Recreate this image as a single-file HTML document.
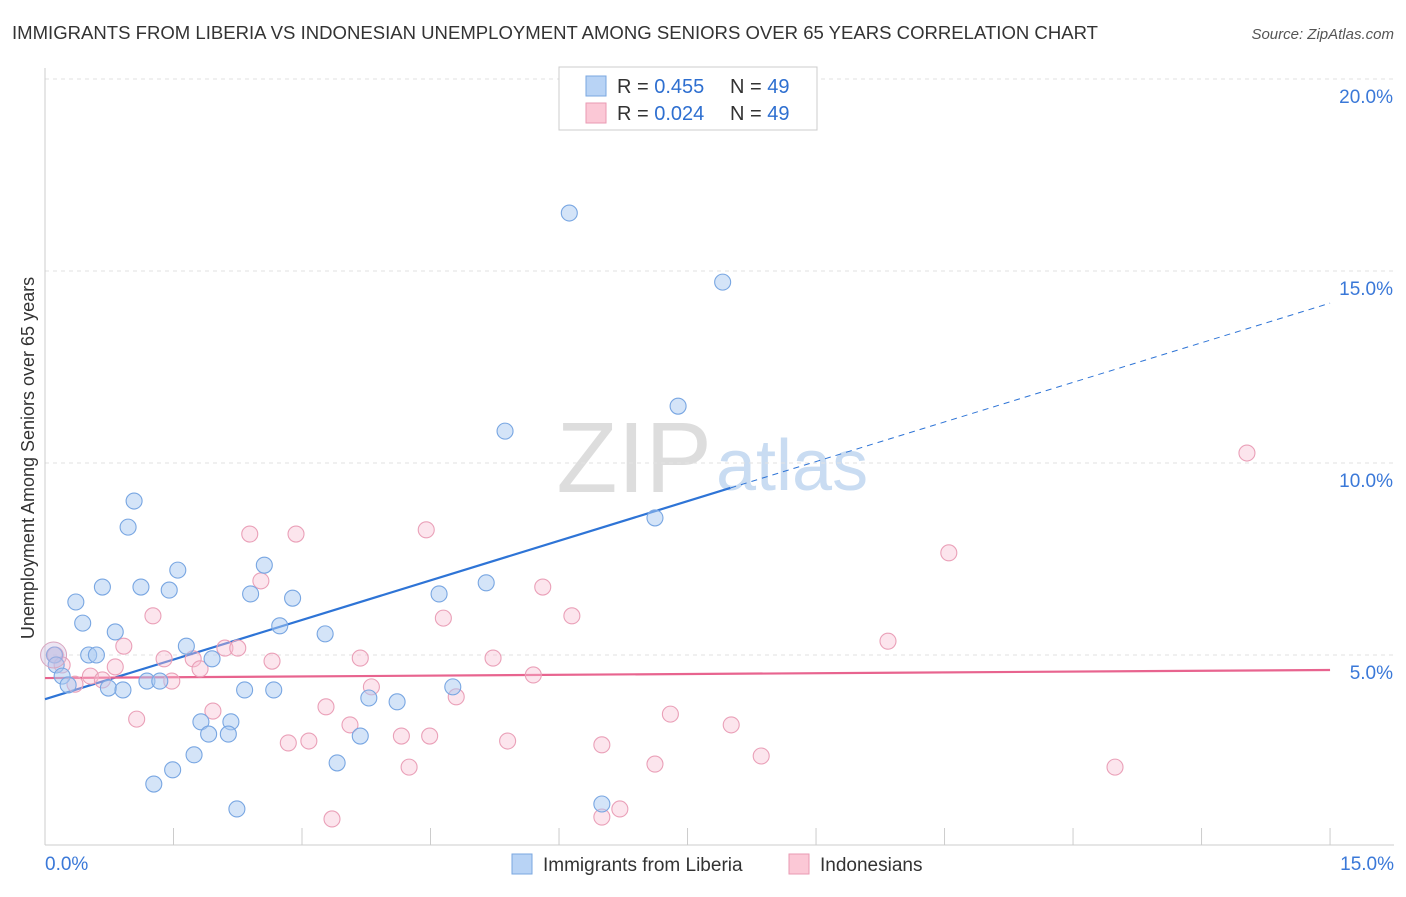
<!DOCTYPE html>
<html><head><meta charset="utf-8"><style>
body{margin:0;background:#fff;font-family:"Liberation Sans",sans-serif}
svg text{font-family:"Liberation Sans",sans-serif}
</style></head><body>
<svg id="chart" width="1406" height="892">
<text x="12" y="39" font-size="18" fill="#333" textLength="1086" lengthAdjust="spacingAndGlyphs">IMMIGRANTS FROM LIBERIA VS INDONESIAN UNEMPLOYMENT AMONG SENIORS OVER 65 YEARS CORRELATION CHART</text>
<text x="1394" y="39" font-size="15" fill="#555" font-style="italic" text-anchor="end">Source: ZipAtlas.com</text>
<text x="712" y="492" font-size="100" fill="#ddd" text-anchor="end" font-family="Liberation Serif">ZIP</text>
<text x="716" y="490" font-size="72" fill="#c9dcf2">atlas</text>
<g id="grid"></g><g id="axes"></g><g id="lines"></g><g id="pts"></g>
<text transform="translate(34,458) rotate(-90)" font-size="18" fill="#333" text-anchor="middle">Unemployment Among Seniors over 65 years</text>
<g>
<rect x="559" y="67" width="258" height="63" fill="#fff" stroke="#ccc"/>
<rect x="586" y="76" width="20" height="20" fill="#b8d3f5" stroke="#7aa7e0"/>
<text x="617" y="93" font-size="20" fill="#333">R = <tspan fill="#2e6fd0">0.455</tspan></text>
<text x="730" y="93" font-size="20" fill="#333">N = <tspan fill="#2e6fd0">49</tspan></text>
<rect x="586" y="103" width="20" height="20" fill="#fbc8d6" stroke="#e99ab3"/>
<text x="617" y="120" font-size="20" fill="#333">R = <tspan fill="#2e6fd0">0.024</tspan></text>
<text x="730" y="120" font-size="20" fill="#333">N = <tspan fill="#2e6fd0">49</tspan></text>
</g>
<g>
<rect x="512" y="854" width="20" height="20" fill="#b8d3f5" stroke="#7aa7e0"/>
<text x="543" y="871" font-size="19" fill="#333">Immigrants from Liberia</text>
<rect x="789" y="854" width="20" height="20" fill="#fbc8d6" stroke="#e99ab3"/>
<text x="820" y="871" font-size="19" fill="#333">Indonesians</text>
</g>
</svg>
<script>
const blueX=[6.12,7.91,7.39,5.37,7.12,1.04,0.97,1.55,2.56,0.67,1.12,1.45,0.36,2.40,2.89,5.15,4.60,0.44,0.82,2.74,3.27,1.65,0.51,0.60,0.11,1.95,0.13,0.20,1.19,1.34,0.27,0.74,0.91,2.33,2.67,4.76,3.78,4.11,1.82,2.17,1.91,2.14,3.68,1.74,1.49,1.27,3.41,2.24,6.50];
const blueY=[16.51,14.71,11.48,10.83,8.57,9.01,8.33,7.21,7.34,6.77,6.77,6.69,6.38,6.59,6.48,6.88,6.59,5.83,5.60,5.76,5.55,5.23,5.00,5.00,5.00,4.90,4.74,4.45,4.32,4.32,4.22,4.14,4.09,4.09,4.09,4.17,3.88,3.78,3.26,3.26,2.94,2.94,2.89,2.40,2.01,1.64,2.19,0.99,1.12];
const pinkX=[14.03,10.55,9.84,4.45,2.93,2.39,2.52,5.81,1.26,4.65,6.15,0.92,2.10,2.25,2.65,3.68,5.23,1.39,1.73,0.82,1.81,0.12,0.20,0.35,0.53,0.67,1.48,5.70,3.81,4.80,1.96,3.28,1.07,7.30,3.56,8.01,4.16,4.49,3.08,2.84,5.40,6.50,8.36,7.12,4.25,12.49,3.35,6.50,6.71];
const pinkY=[10.26,7.66,5.36,8.26,8.15,8.15,6.93,6.77,6.02,5.96,6.02,5.23,5.18,5.18,4.84,4.92,4.92,4.90,4.90,4.69,4.64,5.00,4.74,4.24,4.45,4.35,4.32,4.48,4.17,3.91,3.54,3.65,3.33,3.46,3.18,3.18,2.89,2.89,2.76,2.71,2.76,2.66,2.37,2.16,2.08,2.08,0.73,0.78,0.99];
const blueFit=[3.85,0.6875], pinkFit=[4.40,0.014];
const yTicks=[5,10,15,20];
const xTickLabels=["0.0%","15.0%"];
const NS="http://www.w3.org/2000/svg";
const X=v=>45+v*85.67, Y=v=>847-v*38.4;
function mk(p,t,a){const e=document.createElementNS(NS,t);for(const k in a)e.setAttribute(k,a[k]);document.getElementById(p).appendChild(e);return e;}
for(const t of yTicks){
 const g=mk('grid','line',{x1:45,x2:1394,y1:Y(t),y2:Y(t),stroke:'#e2e2e2','stroke-dasharray':'4,4'});
 
 
 const l=mk('axes','text',{x:1393,y:Y(t)+24,'font-size':19,fill:'#3a78d8','text-anchor':'end'});l.textContent=t.toFixed(1)+'%';
 
 
}
mk('axes','line',{x1:45,x2:45,y1:68,y2:845,stroke:'#ccc'});
mk('axes','line',{x1:45,x2:1394,y1:845,y2:845,stroke:'#ccc'});
for(let i=0;i<=10;i++){const t=mk('axes','line',{x1:X(i*1.5),x2:X(i*1.5),y1:828,y2:845,stroke:'#ccc'});
 
 }
const a=mk('axes','text',{x:45,y:870,'font-size':19,fill:'#3a78d8'});a.textContent=xTickLabels[0];


const b=mk('axes','text',{x:1394,y:870,'font-size':19,fill:'#3a78d8','text-anchor':'end'});b.textContent=xTickLabels[1];


function pts(xs,ys,fill,stroke,name){xs.forEach((x,i)=>{const c=mk('pts','circle',{cx:X(x),cy:Y(ys[i]),r:8,fill:fill,stroke:stroke,'stroke-width':1.1});
 
 });}
pts(pinkX,pinkY,'rgba(248,190,210,0.4)','#eaa0b8','indonesians-point');
pts(blueX,blueY,'rgba(170,202,242,0.5)','#78a6e2','liberia-point');
const big=mk('pts','circle',{cx:X(0.1),cy:Y(5.0),r:13,fill:'rgba(200,180,220,0.35)',stroke:'#d9a5bf'});


const bs=mk('lines','line',{x1:X(0),y1:Y(blueFit[0]),x2:X(8),y2:Y(blueFit[0]+8*blueFit[1]),stroke:'#2e74d6','stroke-width':2.2});


const bd=mk('lines','line',{x1:X(8),y1:Y(blueFit[0]+8*blueFit[1]),x2:X(15),y2:Y(blueFit[0]+15*blueFit[1]),stroke:'#2e74d6','stroke-width':1,'stroke-dasharray':'6,5'});


const pl=mk('lines','line',{x1:X(0),y1:Y(pinkFit[0]),x2:X(15),y2:Y(pinkFit[0]+15*pinkFit[1]),stroke:'#e8648f','stroke-width':2.2});


</script>
</body></html>
